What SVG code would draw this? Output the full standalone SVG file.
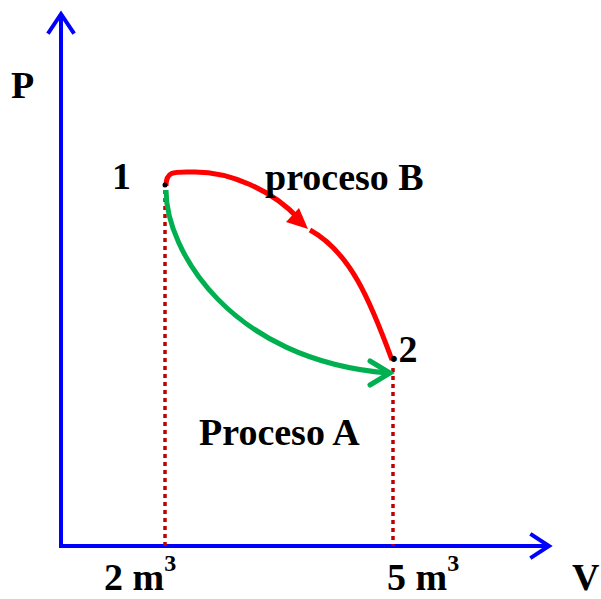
<svg xmlns="http://www.w3.org/2000/svg" width="601" height="599" viewBox="0 0 601 599">
<style>
.t{font-family:"Liberation Serif","Times New Roman",serif;font-weight:bold;font-size:38px;fill:#000}
.ax{stroke:#0000ff;stroke-width:4;fill:none;stroke-linecap:square}
.dot{stroke:#c00000;stroke-width:3.5;stroke-dasharray:4 4;fill:none}
</style>
<rect width="601" height="599" fill="#fff"/>
<g id="axes">
<path class="ax" d="M61,16 V546 H546"/>
<path class="ax" d="M49,32 L61,14 L73,32" stroke-linejoin="miter"/>
<path class="ax" d="M532,535 L549,546 L532,557"/>
</g>
<g id="guides">
<path class="dot" d="M165,190 V546"/>
<path class="dot" d="M393,368 V546"/>
</g>
<g id="connectors">
<path d="M166,186 C166,170 175,172 195,172 C230,172 272,190 298,218" stroke="#ff0000" stroke-width="5" fill="none"/>
<path d="M299,208 L308,229 L286,222 Z" fill="#ff0000"/>
<path d="M310,230 C350,252 370,300 392,360" stroke="#ff0000" stroke-width="5" fill="none"/>
<path d="M166,190 C166,250 230,360 388,373" stroke="#00b050" stroke-width="5" fill="none"/>
<path d="M370,361 L390,373 L370,385" stroke="#00b050" stroke-width="5" fill="none" stroke-linecap="round"/>
<circle cx="165" cy="185" r="2.5" fill="#000"/>
</g>
<g id="labels">
<text class="t" x="11" y="98">P</text>
<text class="t" x="112" y="189">1</text>
<text class="t" x="265" y="190">proceso B</text>
<text class="t" x="389" y="362">.2</text>
<text class="t" x="199" y="445">Proceso A</text>
<text class="t" x="104" y="590">2 m<tspan font-size="24" dy="-19">3</tspan></text>
<text class="t" x="387" y="590">5 m<tspan font-size="24" dy="-19">3</tspan></text>
<text class="t" x="572" y="590">V</text>
</g>
</svg>
